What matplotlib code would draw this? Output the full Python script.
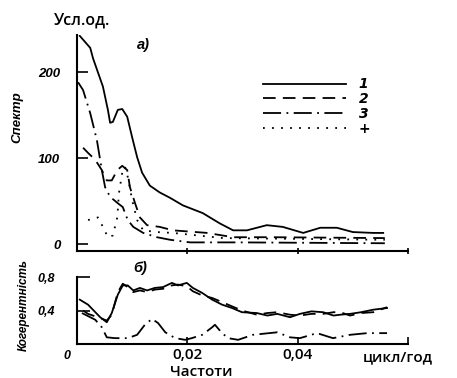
import matplotlib
matplotlib.use("Agg")
import matplotlib.pyplot as plt

# спектри (верхня панель)
sx1 = [0.0005, 0.0024, 0.0029, 0.0047, 0.0056, 0.0060, 0.0065, 0.0074, 0.0082, 0.0091, 0.0100,
       0.0109, 0.0118, 0.0132, 0.0150, 0.0168, 0.0192, 0.0228, 0.0259, 0.0283, 0.0308, 0.0344,
       0.0373, 0.0410, 0.0441, 0.0471, 0.0500, 0.0537, 0.0555]
sy1 = [242, 228, 216, 183, 156, 141, 142, 156, 157, 148, 124, 101, 83, 68, 60, 54, 45, 36, 24,
       16, 16, 22, 20, 13, 19, 19, 14, 13, 13]

sx2 = [0.0011, 0.0020, 0.0033, 0.0045, 0.0054, 0.0063, 0.0073, 0.0082, 0.0091, 0.0096, 0.0105,
       0.0114, 0.0127, 0.0150, 0.0174, 0.0236, 0.0283, 0.0355, 0.0558]
sy2 = [112, 106, 98, 86, 74, 74, 86, 91, 86, 66, 48, 31, 22, 20, 16, 13, 8, 8, 7]

sx3 = [0.0002, 0.0011, 0.0024, 0.0036, 0.0045, 0.0051, 0.0060, 0.0073, 0.0083, 0.0092, 0.0102,
       0.0120, 0.0145, 0.0169, 0.0205, 0.0296, 0.0558]
sy3 = [188, 179, 152, 121, 86, 66, 55, 48, 43, 28, 20, 13, 8, 5, 2, 2, 1]

sx4 = [0.0020, 0.0038, 0.0047, 0.0056, 0.0065, 0.0073, 0.0076, 0.0082, 0.0087, 0.0092, 0.0100,
       0.0109, 0.0120, 0.0145, 0.0174, 0.0265, 0.0558]
sy4 = [28, 31, 20, 8, 10, 31, 59, 83, 90, 78, 51, 28, 16, 14, 13, 7, 5]

# когерентність (нижня панель)
cx1 = [0.0005, 0.0020, 0.0042, 0.0054, 0.0063, 0.0074, 0.0083, 0.0092, 0.0102, 0.0114, 0.0127,
       0.0141, 0.0156, 0.0172, 0.0183, 0.0199, 0.0210, 0.0227, 0.0245, 0.0263, 0.0281, 0.0299,
       0.0326, 0.0345, 0.0363, 0.0386, 0.0404, 0.0425, 0.0446, 0.0465, 0.0477, 0.0495, 0.0515,
       0.0537, 0.0562]
cy1 = [0.53, 0.47, 0.32, 0.26, 0.37, 0.59, 0.70, 0.70, 0.64, 0.67, 0.64, 0.67, 0.68, 0.73, 0.70,
       0.73, 0.67, 0.61, 0.53, 0.47, 0.43, 0.38, 0.37, 0.34, 0.36, 0.32, 0.36, 0.39, 0.38, 0.34,
       0.35, 0.36, 0.38, 0.41, 0.43]

cx2 = [0.0011, 0.0020, 0.0042, 0.0054, 0.0063, 0.0074, 0.0083, 0.0092, 0.0102, 0.0114, 0.0127,
       0.0141, 0.0156, 0.0172, 0.0183, 0.0199, 0.0210, 0.0227, 0.0245, 0.0263, 0.0281, 0.0299,
       0.0326, 0.0345, 0.0363, 0.0386, 0.0404, 0.0425, 0.0446, 0.0465, 0.0477, 0.0495, 0.0515,
       0.0537, 0.0562]
cy2 = [0.40, 0.36, 0.31, 0.28, 0.35, 0.62, 0.72, 0.68, 0.62, 0.64, 0.62, 0.65, 0.66, 0.70, 0.71,
       0.69, 0.63, 0.58, 0.55, 0.50, 0.45, 0.40, 0.35, 0.37, 0.38, 0.35, 0.34, 0.36, 0.36, 0.38,
       0.38, 0.34, 0.37, 0.38, 0.44]

cx3 = [0.0009, 0.0033, 0.0045, 0.0054, 0.0069, 0.0092, 0.0109, 0.0123, 0.0136, 0.0147, 0.0160,
       0.0178, 0.0196, 0.0208, 0.0227, 0.0245, 0.0250, 0.0263, 0.0274, 0.0292, 0.0319, 0.0363,
       0.0386, 0.0404, 0.0435, 0.0464, 0.0495, 0.0526, 0.0562]
cy3 = [0.37, 0.29, 0.20, 0.08, 0.07, 0.07, 0.11, 0.23, 0.30, 0.25, 0.14, 0.07, 0.05, 0.07, 0.11,
       0.20, 0.23, 0.13, 0.07, 0.05, 0.11, 0.14, 0.08, 0.07, 0.13, 0.07, 0.11, 0.13, 0.13]

legend_labels = ["1", "2", "3", "+"]
top_yticks = [0, 100, 200]
top_yticklabels = ["0", "100", "200"]
bot_yticks = [0.4, 0.8]
bot_yticklabels = ["0,4", "0,8"]
xticks = [0.02, 0.04, 0.06]
xticklabels = ["0,02", "0,04", ""]

styles = ["-", (0, (7, 4)), (0, (10, 3, 1, 3)), (0, (1, 4))]
lw = 1.3
ital = dict(family=["Liberation Sans Narrow", "Liberation Sans", "DejaVu Sans"],
            style="italic", weight="bold")
plain = dict(family=["Open Sans", "DejaVu Sans"], weight="semibold")

fig = plt.figure(figsize=(4.57, 3.78), dpi=100)
ax1 = fig.add_axes([0.1685, 0.336, 0.7243, 0.5714])
ax2 = fig.add_axes([0.1685, 0.0899, 0.7243, 0.1772])

for ax in (ax1, ax2):
    for s in ("top", "right"):
        ax.spines[s].set_visible(False)
    for s in ("left", "bottom"):
        ax.spines[s].set_linewidth(1.5)
    ax.set_xlim(0, 0.06)
    ax.set_xticks(xticks)

# верхня панель
lines = []
for xs, ys, st in zip([sx1, sx2, sx3, sx4], [sy1, sy2, sy3, sy4], styles):
    ln, = ax1.plot(xs, ys, color="black", lw=lw, linestyle=st)
    lines.append(ln)
ax1.set_ylim(-8, 243)
ax1.set_yticks(top_yticks)
ax1.set_yticklabels(top_yticklabels, fontsize=9.5, **ital)
ax1.tick_params(axis="y", direction="in", length=8, width=1.2, pad=12)
ax1.tick_params(axis="x", direction="inout", length=5, width=1.2, labelbottom=False)
ax1.text(0.18, 0.935, "а)", transform=ax1.transAxes, fontsize=10.5, **ital)
leg = fig.legend(lines, legend_labels, loc="upper left", bbox_to_anchor=(0.575, 0.795),
                 frameon=False, handlelength=6.0, handletextpad=0.9, labelspacing=0.05,
                 borderpad=0, borderaxespad=0, prop=dict(size=10, style="italic", weight="bold"))
fig.text(0.18, 0.945, "Усл.од.", fontsize=11.5, ha="center", va="center", **plain)
fig.text(0.038, 0.69, "Спектр", rotation=90, fontsize=9.5, ha="center", va="center", **ital)

# нижня панель
for xs, ys, st in zip([cx1, cx2, cx3], [cy1, cy2, cy3], styles[:3]):
    ax2.plot(xs, ys, color="black", lw=lw, linestyle=st)
ax2.set_ylim(0, 0.8)
ax2.set_yticks(bot_yticks)
ax2.set_yticklabels(bot_yticklabels, fontsize=9, **ital)
ax2.tick_params(axis="y", direction="in", length=9, width=1.2, pad=16)
ax2.tick_params(axis="x", direction="in", length=5, width=1.2, pad=3)
ax2.set_xticklabels(xticklabels, fontsize=11, **plain)
ax2.text(0.17, 1.08, "б)", transform=ax2.transAxes, fontsize=10.5, **ital)
fig.text(0.147, 0.058, "0", fontsize=9, ha="center", va="center", **ital)
fig.text(0.794, 0.056, "цикл/год", fontsize=11, ha="left", va="center", **plain)
fig.text(0.44, 0.016, "Частоти", fontsize=11, ha="center", va="center", **plain)
fig.text(0.052, 0.193, "Когерентність", rotation=90, fontsize=8.5, ha="center", va="center", **ital)

fig.savefig("out.png", dpi=100)
